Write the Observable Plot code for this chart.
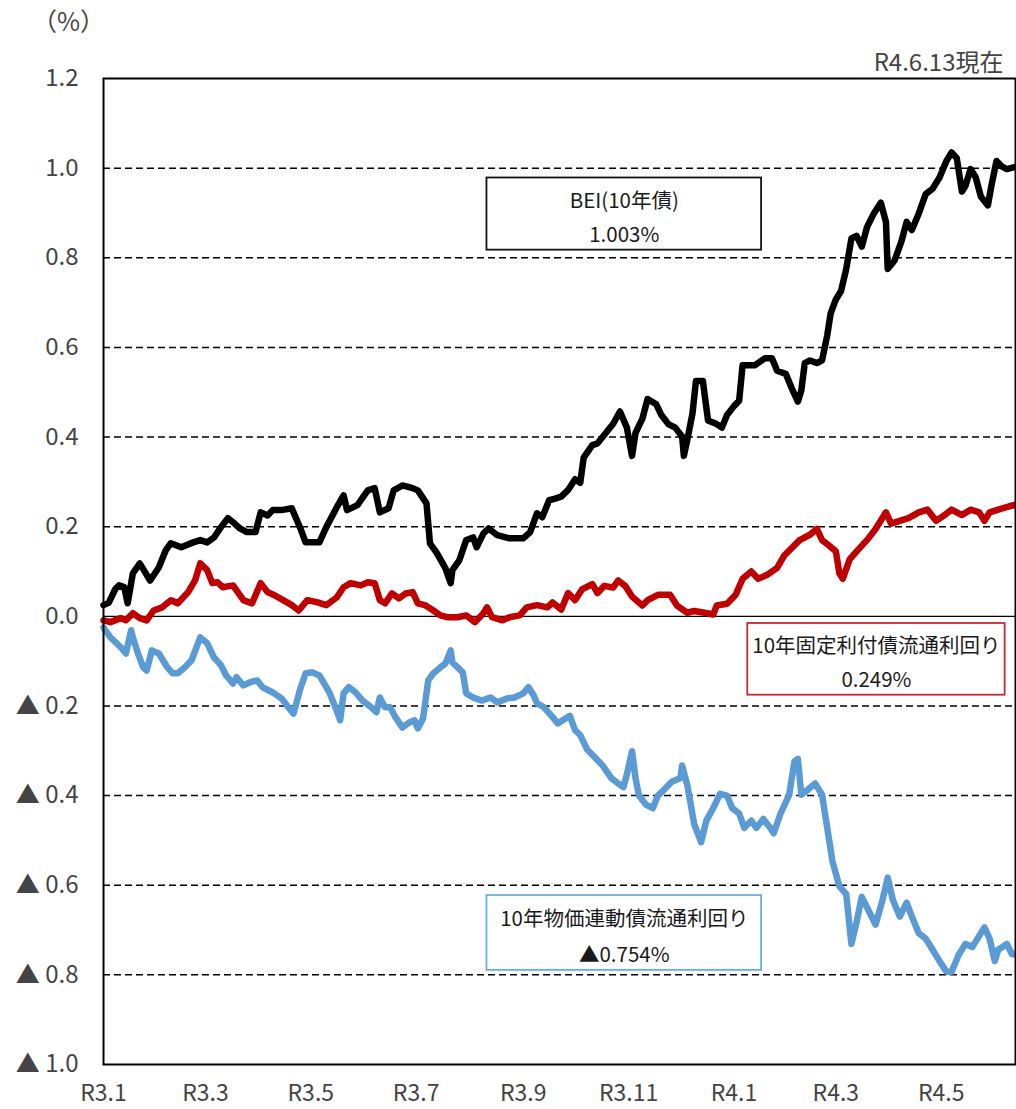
<!DOCTYPE html>
<html><head><meta charset="utf-8">
<script src="https://cdn.jsdelivr.net/npm/d3@7"></script>
<script src="https://cdn.jsdelivr.net/npm/@observablehq/plot@0.6"></script>
<style>
body{margin:0;background:#fff;}
#wrap{width:1016px;font-family:"Noto Sans CJK JP",sans-serif;}
#head{height:38px;position:relative;}
#unit{position:absolute;left:32px;top:2px;font-size:25px;color:#444;}
</style></head>
<body><div id="wrap"><div id="head"><span id="unit">（%）</span></div><div id="chart"></div></div>
<script>
// BEI (10年債)
const bei = [
["2021-01-01",0.025],["2021-01-04",0.030],["2021-01-08",0.062],["2021-01-10",0.069],["2021-01-13",0.065],["2021-01-15",0.029],
["2021-01-18",0.096],["2021-01-22",0.118],["2021-01-28",0.080],["2021-02-02",0.109],["2021-02-06",0.147],["2021-02-09",0.163],
["2021-02-15",0.154],["2021-02-22",0.165],["2021-02-26",0.170],["2021-03-02",0.165],["2021-03-06",0.176],["2021-03-10",0.199],
["2021-03-14",0.219],["2021-03-17",0.210],["2021-03-21",0.196],["2021-03-25",0.188],["2021-03-30",0.188],["2021-04-02",0.232],
["2021-04-06",0.225],["2021-04-09",0.237],["2021-04-14",0.237],["2021-04-20",0.241],["2021-04-25",0.196],["2021-04-28",0.165],
["2021-05-06",0.165],["2021-05-10",0.199],["2021-05-16",0.243],["2021-05-20",0.270],["2021-05-22",0.237],["2021-05-28",0.248],
["2021-06-03",0.281],["2021-06-07",0.286],["2021-06-10",0.232],["2021-06-15",0.241],["2021-06-18",0.281],["2021-06-23",0.292],
["2021-06-29",0.286],["2021-07-02",0.281],["2021-07-07",0.252],["2021-07-09",0.163],["2021-07-13",0.141],["2021-07-18",0.107],
["2021-07-21",0.074],["2021-07-22",0.103],["2021-07-26",0.125],["2021-07-30",0.170],["2021-08-03",0.176],["2021-08-05",0.154],
["2021-08-09",0.185],["2021-08-12",0.196],["2021-08-17",0.181],["2021-08-24",0.174],["2021-09-01",0.174],["2021-09-05",0.188],
["2021-09-09",0.230],["2021-09-12",0.221],["2021-09-16",0.259],["2021-09-19",0.262],["2021-09-23",0.267],["2021-09-27",0.282],
["2021-10-01",0.306],["2021-10-04",0.298],["2021-10-06",0.354],["2021-10-11",0.382],["2021-10-14",0.386],["2021-10-18",0.405],
["2021-10-23",0.429],["2021-10-27",0.457],["2021-10-31",0.421],["2021-11-03",0.358],["2021-11-05",0.409],["2021-11-09",0.441],
["2021-11-12",0.485],["2021-11-17",0.473],["2021-11-20",0.449],["2021-11-24",0.429],["2021-11-28",0.421],["2021-12-02",0.401],
["2021-12-03",0.358],["2021-12-05",0.394],["2021-12-08",0.453],["2021-12-10",0.525],["2021-12-14",0.525],["2021-12-17",0.437],
["2021-12-22",0.429],["2021-12-25",0.421],["2021-12-28",0.449],["2022-01-01",0.469],["2022-01-04",0.481],["2022-01-06",0.560],
["2022-01-13",0.560],["2022-01-19",0.576],["2022-01-23",0.576],["2022-01-26",0.548],["2022-01-31",0.541],["2022-02-04",0.504],
["2022-02-07",0.479],["2022-02-09",0.504],["2022-02-11",0.565],["2022-02-14",0.571],["2022-02-18",0.565],["2022-02-21",0.571],
["2022-02-24",0.627],["2022-02-26",0.676],["2022-03-01",0.707],["2022-03-04",0.726],["2022-03-07",0.775],["2022-03-10",0.843],
["2022-03-13",0.849],["2022-03-16",0.825],["2022-03-19",0.868],["2022-03-23",0.899],["2022-03-27",0.923],["2022-03-30",0.880],
["2022-03-31",0.775],["2022-04-04",0.794],["2022-04-08",0.837],["2022-04-11",0.880],["2022-04-14",0.862],["2022-04-18",0.899],
["2022-04-22",0.942],["2022-04-26",0.954],["2022-04-30",0.979],["2022-05-04",1.016],["2022-05-07",1.035],["2022-05-10",1.022],
["2022-05-13",0.948],["2022-05-15",0.960],["2022-05-18",0.998],["2022-05-21",0.979],["2022-05-24",0.936],["2022-05-28",0.917],
["2022-05-30",0.960],["2022-06-02",1.016],["2022-06-05",1.004],["2022-06-08",0.998],["2022-06-13",1.003]
];
// 10年固定利付債流通利回り
const nominal = [
["2021-01-01",-0.009],["2021-01-05",-0.013],["2021-01-11",-0.004],["2021-01-14",-0.009],["2021-01-18",0.007],["2021-01-22",-0.004],
["2021-01-26",-0.009],["2021-01-30",0.013],["2021-02-04",0.020],["2021-02-09",0.036],["2021-02-13",0.029],["2021-02-19",0.054],
["2021-02-23",0.080],["2021-02-26",0.118],["2021-03-02",0.103],["2021-03-05",0.074],["2021-03-08",0.076],["2021-03-11",0.065],
["2021-03-17",0.069],["2021-03-19",0.058],["2021-03-23",0.036],["2021-03-28",0.029],["2021-04-02",0.074],["2021-04-06",0.054],
["2021-04-10",0.047],["2021-04-15",0.036],["2021-04-20",0.025],["2021-04-24",0.013],["2021-04-29",0.036],["2021-05-05",0.031],
["2021-05-10",0.025],["2021-05-16",0.042],["2021-05-20",0.065],["2021-05-24",0.074],["2021-05-30",0.069],["2021-06-03",0.076],
["2021-06-07",0.074],["2021-06-10",0.036],["2021-06-13",0.029],["2021-06-17",0.051],["2021-06-21",0.040],["2021-06-25",0.051],
["2021-06-29",0.054],["2021-07-02",0.029],["2021-07-06",0.025],["2021-07-11",0.013],["2021-07-15",0.002],["2021-07-19",-0.002],
["2021-07-25",-0.002],["2021-07-30",0.002],["2021-08-04",-0.013],["2021-08-09",0.007],["2021-08-11",0.020],["2021-08-14",-0.002],
["2021-08-20",-0.009],["2021-08-24",-0.002],["2021-08-30",0.002],["2021-09-03",0.020],["2021-09-09",0.025],["2021-09-15",0.020],
["2021-09-18",0.031],["2021-09-23",0.015],["2021-09-27",0.052],["2021-10-01",0.036],["2021-10-05",0.060],["2021-10-11",0.072],
["2021-10-14",0.052],["2021-10-18",0.068],["2021-10-23",0.064],["2021-10-26",0.080],["2021-10-30",0.068],["2021-11-03",0.044],
["2021-11-09",0.024],["2021-11-12",0.036],["2021-11-18",0.048],["2021-11-25",0.048],["2021-11-29",0.024],["2021-12-05",0.008],
["2021-12-09",0.012],["2021-12-15",0.008],["2021-12-20",0.004],["2021-12-22",0.024],["2021-12-28",0.028],["2022-01-02",0.048],
["2022-01-06",0.084],["2022-01-11",0.100],["2022-01-15",0.084],["2022-01-20",0.092],["2022-01-26",0.108],["2022-01-30",0.135],
["2022-02-08",0.170],["2022-02-14",0.182],["2022-02-18",0.195],["2022-02-21",0.170],["2022-02-25",0.158],["2022-03-01",0.145],
["2022-03-03",0.096],["2022-03-05",0.084],["2022-03-09",0.127],["2022-03-13",0.145],["2022-03-19",0.170],["2022-03-24",0.195],
["2022-03-30",0.232],["2022-04-02",0.207],["2022-04-07",0.213],["2022-04-12",0.219],["2022-04-18",0.232],["2022-04-23",0.238],
["2022-04-28",0.213],["2022-05-03",0.226],["2022-05-07",0.238],["2022-05-13",0.226],["2022-05-18",0.238],["2022-05-23",0.232],
["2022-05-26",0.213],["2022-05-29",0.232],["2022-06-03",0.238],["2022-06-09",0.245],["2022-06-13",0.249]
];
// 10年物価連動債流通利回り
const indexed = [
["2021-01-01",-0.025],["2021-01-05",-0.047],["2021-01-11",-0.069],["2021-01-14",-0.083],["2021-01-17",-0.031],["2021-01-18",-0.047],
["2021-01-21",-0.083],["2021-01-24",-0.114],["2021-01-26",-0.121],["2021-01-29",-0.076],["2021-02-02",-0.083],["2021-02-07",-0.114],
["2021-02-10",-0.127],["2021-02-13",-0.127],["2021-02-17",-0.114],["2021-02-21",-0.098],["2021-02-26",-0.047],["2021-03-02",-0.060],
["2021-03-06",-0.092],["2021-03-10",-0.109],["2021-03-13",-0.132],["2021-03-17",-0.150],["2021-03-19",-0.136],["2021-03-23",-0.154],
["2021-03-27",-0.147],["2021-03-31",-0.143],["2021-04-03",-0.158],["2021-04-09",-0.170],["2021-04-14",-0.183],["2021-04-18",-0.203],
["2021-04-21",-0.217],["2021-04-25",-0.161],["2021-04-28",-0.127],["2021-05-02",-0.125],["2021-05-06",-0.132],["2021-05-10",-0.158],
["2021-05-12",-0.172],["2021-05-16",-0.210],["2021-05-18",-0.232],["2021-05-20",-0.172],["2021-05-23",-0.158],["2021-05-27",-0.170],
["2021-05-31",-0.188],["2021-06-05",-0.203],["2021-06-08",-0.214],["2021-06-10",-0.181],["2021-06-13",-0.203],["2021-06-16",-0.203],
["2021-06-19",-0.225],["2021-06-23",-0.248],["2021-06-27",-0.237],["2021-06-30",-0.232],["2021-07-02",-0.250],["2021-07-05",-0.228],
["2021-07-08",-0.143],["2021-07-11",-0.127],["2021-07-15",-0.114],["2021-07-18",-0.105],["2021-07-21",-0.076],["2021-07-22",-0.103],
["2021-07-25",-0.114],["2021-07-28",-0.125],["2021-07-30",-0.172],["2021-08-03",-0.181],["2021-08-08",-0.188],["2021-08-13",-0.181],
["2021-08-17",-0.192],["2021-08-23",-0.183],["2021-08-27",-0.181],["2021-09-01",-0.172],["2021-09-04",-0.158],["2021-09-07",-0.176],
["2021-09-09",-0.194],["2021-09-13",-0.203],["2021-09-18",-0.225],["2021-09-21",-0.239],["2021-09-23",-0.234],["2021-09-28",-0.222],
["2021-10-01",-0.254],["2021-10-04",-0.265],["2021-10-08",-0.297],["2021-10-12",-0.313],["2021-10-17",-0.333],["2021-10-22",-0.361],
["2021-10-26",-0.373],["2021-10-29",-0.381],["2021-10-31",-0.353],["2021-11-03",-0.301],["2021-11-05",-0.361],["2021-11-07",-0.400],
["2021-11-11",-0.420],["2021-11-15",-0.428],["2021-11-18",-0.400],["2021-11-22",-0.385],["2021-11-26",-0.369],["2021-12-01",-0.361],
["2021-12-02",-0.333],["2021-12-05",-0.377],["2021-12-09",-0.464],["2021-12-13",-0.504],["2021-12-16",-0.456],["2021-12-20",-0.428],
["2021-12-24",-0.396],["2021-12-28",-0.400],["2021-12-31",-0.428],["2022-01-04",-0.440],["2022-01-07",-0.472],["2022-01-11",-0.456],
["2022-01-14",-0.472],["2022-01-18",-0.452],["2022-01-22",-0.472],["2022-01-24",-0.484],["2022-01-28",-0.440],["2022-02-02",-0.398],
["2022-02-05",-0.324],["2022-02-07",-0.318],["2022-02-09",-0.398],["2022-02-13",-0.386],["2022-02-17",-0.373],["2022-02-21",-0.398],
["2022-02-24",-0.472],["2022-02-27",-0.546],["2022-03-03",-0.602],["2022-03-07",-0.620],["2022-03-10",-0.731],["2022-03-13",-0.682],
["2022-03-16",-0.626],["2022-03-20",-0.657],["2022-03-24",-0.688],["2022-03-28",-0.633],["2022-03-31",-0.583],["2022-04-03",-0.633],
["2022-04-07",-0.670],["2022-04-11",-0.639],["2022-04-14",-0.670],["2022-04-18",-0.707],["2022-04-22",-0.719],["2022-04-26",-0.744],
["2022-04-30",-0.769],["2022-05-04",-0.793],["2022-05-07",-0.793],["2022-05-11",-0.756],["2022-05-15",-0.731],["2022-05-19",-0.738],
["2022-05-23",-0.713],["2022-05-26",-0.694],["2022-05-29",-0.719],["2022-06-01",-0.769],["2022-06-03",-0.744],["2022-06-08",-0.731],
["2022-06-11",-0.754],["2022-06-13",-0.754]
];

const xTickDates = ["2021-01-01","2021-03-01","2021-05-01","2021-07-01","2021-09-01","2021-11-01","2022-01-01","2022-03-01","2022-05-01"];
const xTickLabels = ["R3.1","R3.3","R3.5","R3.7","R3.9","R3.11","R4.1","R4.3","R4.5"];
const yTicks = [-1.0,-0.8,-0.6,-0.4,-0.2,0.0,0.2,0.4,0.6,0.8,1.0,1.2];
const yTickLabels = ["▲ 1.0","▲ 0.8","▲ 0.6","▲ 0.4","▲ 0.2","0.0","0.2","0.4","0.6","0.8","1.0","1.2"];
const dashedGrid = [-0.8,-0.6,-0.4,-0.2,0.2,0.4,0.6,0.8,1.0];
const asOfLabel = "R4.6.13現在";
const boxTitles = ["BEI(10年債)","10年固定利付債流通利回り","10年物価連動債流通利回り"];
const boxValues = ["1.003%","0.249%","▲0.754%"];

// layout of the annotation boxes (in data coordinates) and colours
const boxLayout = [
  {x1:"2021-08-11", x2:"2022-01-17", y1:0.978, y2:0.817, stroke:"#111"},
  {x1:"2022-01-09", x2:"2022-06-07", y1:-0.016, y2:-0.176, stroke:"#c8282e"},
  {x1:"2021-08-11", x2:"2022-01-17", y1:-0.623, y2:-0.790, stroke:"#6aaee6"}
];

const parse = s => new Date(s + "T00:00:00Z");
const series = [
  {data: bei, color: "#000000"},
  {data: nominal, color: "#c00000"},
  {data: indexed, color: "#5b9bd5"}
];
const boxes = boxLayout.map((b, i) => {
  const x1 = parse(b.x1), x2 = parse(b.x2);
  const xm = new Date((+x1 + +x2) / 2);
  const h = b.y2 - b.y1;
  return {x1, x2, y1: b.y1, y2: b.y2, xm, t1y: b.y1 + h * 0.32, t2y: b.y1 + h * 0.8,
          title: boxTitles[i], value: boxValues[i], stroke: b.stroke};
});
const xLabelMap = new Map(xTickDates.map((d, i) => [+parse(d), xTickLabels[i]]));
const yLabelFor = v => { const i = yTicks.findIndex(t => Math.abs(t - v) < 1e-9); return i >= 0 ? yTickLabels[i] : ""; };

const chart = Plot.plot({
  width: 1016,
  height: 1071,
  marginTop: 40,
  marginBottom: 45,
  marginLeft: 103,
  marginRight: 1,
  style: {fontFamily: '"Noto Sans CJK JP", sans-serif', background: "#fff"},
  x: {type: "utc", domain: [parse("2021-01-01"), parse("2022-06-13")]},
  y: {domain: [-1.0, 1.2]},
  marks: [
    Plot.ruleY(dashedGrid, {stroke: "#000", strokeWidth: 1.5, strokeDasharray: "7,4"}),
    Plot.ruleY([0], {stroke: "#000", strokeWidth: 1.2}),
    ...series.map(s => Plot.line(s.data, {x: d => parse(d[0]), y: d => d[1], stroke: s.color, strokeWidth: 6.5, strokeLinejoin: "round", strokeLinecap: "round"})),
    Plot.frame({stroke: "#000", strokeWidth: 2}),
    Plot.rect(boxes, {x1: "x1", x2: "x2", y1: "y1", y2: "y2", fill: "#fff", stroke: "stroke", strokeWidth: 1.8}),
    Plot.text(boxes, {x: "xm", y: "t1y", text: "title", fontSize: 20.5, fill: "#1a1a1a", lineAnchor: "middle"}),
    Plot.text(boxes, {x: "xm", y: "t2y", text: "value", fontSize: 20.5, fill: "#1a1a1a", lineAnchor: "middle"}),
    Plot.text([asOfLabel], {frameAnchor: "top-right", text: d => d, dx: -12, dy: -15, fontSize: 24, fill: "#444", textAnchor: "end", lineAnchor: "middle"}),
    Plot.axisY(yTicks, {tickSize: 0, tickPadding: 25, fontSize: 24, color: "#444", tickFormat: yLabelFor, label: null}),
    Plot.axisX(xTickDates.map(parse), {tickSize: 0, tickPadding: 20, fontSize: 23, color: "#444", tickFormat: d => xLabelMap.get(+d), label: null})
  ]
});
document.getElementById("chart").appendChild(chart);
</script>
</body></html>
